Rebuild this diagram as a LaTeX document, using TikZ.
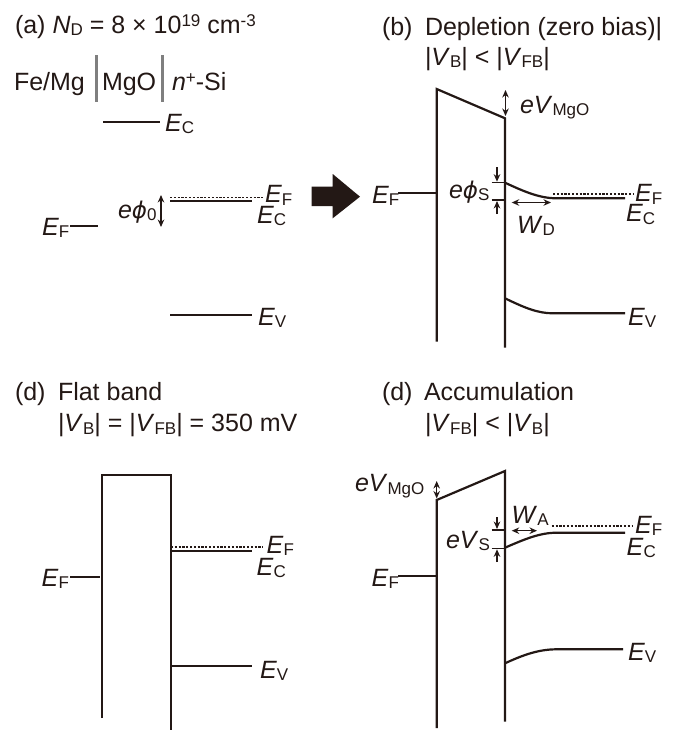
\documentclass[tikz,border=0pt]{standalone}
\usepackage{fontspec}
\setmainfont{Liberation Sans}
\newfontfamily\dvs{DejaVu Sans}
\usetikzlibrary{arrows.meta}
\definecolor{ink}{HTML}{231815}
\definecolor{bargray}{HTML}{7F7F7F}
\newcommand\sbs[1]{\raisebox{-2.5pt}{\fontsize{17}{17}\selectfont\upshape #1}}
\newcommand\sps[1]{\raisebox{7pt}{\fontsize{17}{17}\selectfont\upshape #1}}
\newcommand\phiit{{\dvs\itshape\fontsize{23}{25}\selectfont ϕ}}
\begin{document}
\begin{tikzpicture}[x=1pt,y=-1pt,
 txt/.style={anchor=base west, inner sep=0pt, outer sep=0pt, font=\fontsize{25}{30}\selectfont, text=ink},
 band/.style={draw=ink, line width=2.2pt, line join=miter},
 thinl/.style={draw=ink, line width=1.3pt},
 dots/.style={draw=ink, line width=1.9pt, dash pattern=on 2.2pt off 1.6pt},
 dar/.style={thinl, {Stealth[length=7.5pt,width=6.5pt]}-{Stealth[length=7.5pt,width=6.5pt]}},
 sar/.style={thinl, -{Stealth[length=7.5pt,width=6.5pt]}},
 gbar/.style={draw=bargray, line width=3pt},
]
\useasboundingbox (0,0) rectangle (681,731);

% ---------- panel (a)
\node[txt] (ta) at (15,33) {(a) \textit{N}\sbs{D} = 8 × 10\sps{19} cm\sps{-3}};
\node[txt] (fe) at (14,90) {Fe/Mg};
\node[txt] (mgo) at (102,90) {MgO};
\node[txt] (nsi) at (172,90) {\textit{n}\sps{+}-Si};
\draw[gbar] (96,55) -- (96,102);
\draw[gbar] (162,55) -- (162,102);
\draw[band] (103,122) -- (160,122);
\node[txt] (aec1) at (165,131) {\textit{E}\sbs{C}};
\draw[dots] (170,197.5) -- (263,197.5);
\node[txt] (aef) at (265,202.5) {\textit{E}\sbs{F}};
\draw[band] (170,200.8) -- (252,200.8);
\node[txt] (aec2) at (257,223) {\textit{E}\sbs{C}};
\node[txt] (aphi) at (118,218) {\textit{e}\phiit\sbs{0}};
\draw[dar] (161,195) -- (161,227);
\node[txt] (aefm) at (42,235) {\textit{E}\sbs{F}};
\draw[band] (70,226) -- (98,226);
\draw[band] (170,315) -- (252,315);
\node[txt] (aev) at (258,325) {\textit{E}\sbs{V}};

% ---------- fat arrow
\fill[ink] (311.7,186.7) -- (332.7,186.7) -- (332.7,174) -- (360,196.7) -- (332.7,218.3) -- (332.7,206) -- (311.7,206) -- cycle;

% ---------- panel (b)
\node[txt] (tb) at (382,35) {(b)};
\node[txt] (tb2) at (425,35) {Depletion (zero bias)|};
\node[txt] (tb3) at (425,65) {|\textit{V}\sbs{B}| < |\textit{V}\sbs{FB}|};
\draw[band] (436.7,341.7) -- (436.7,89) -- (505,118.3) -- (505,347.7);
\draw[dar] (505.5,90) -- (505.5,116);
\node[txt] (bvm) at (520,113) {\textit{eV}\sbs{MgO}};
\draw[band] (398,193.3) -- (436.7,193.3);
\node[txt] (bef) at (372,203) {\textit{E}\sbs{F}};
\draw[band] (505,182.7) .. controls (525,192) and (540,198.3) .. (556.7,198.3) -- (625,198.3);
\draw[dots] (553,194.3) -- (633,194.3);
\node[txt] (bef2) at (635,201.7) {\textit{E}\sbs{F}};
\node[txt] (bec) at (626,221.7) {\textit{E}\sbs{C}};
\node[txt] (bphi) at (449,198) {\textit{e}\phiit\sbs{S}};
\draw[thinl] (491.7,182.7) -- (505,182.7);
\draw[thinl] (491.7,200) -- (505,200);
\draw[sar] (497,167) -- (497,181.7);
\draw[sar] (497,214) -- (497,201);
\draw[dar] (511.7,202.5) -- (551,202.5);
\node[txt] (bwd) at (517,233.3) {\textit{W}\sbs{D}};
\draw[band] (505,298.3) .. controls (525,308) and (538,313.3) .. (553,313.3) -- (625,313.3);
\node[txt] (bev) at (628,325) {\textit{E}\sbs{V}};

% ---------- panel flat band
\node[txt] (tc) at (15,400) {(d)};
\node[txt] (tc2) at (58,400) {Flat band};
\node[txt] (tc3) at (58,431.7) {|\textit{V}\sbs{B}| = |\textit{V}\sbs{FB}| = 350 mV};
\draw[band] (101.7,718) -- (101.7,475) -- (171,475) -- (171,730);
\draw[band] (70,576.7) -- (100,576.7);
\node[txt] (cef) at (41.7,586) {\textit{E}\sbs{F}};
\draw[dots] (171,546.7) -- (263,546.7);
\node[txt] (cef2) at (266.7,553.3) {\textit{E}\sbs{F}};
\draw[band] (171,551) -- (252,551);
\node[txt] (cec) at (256.7,575) {\textit{E}\sbs{C}};
\draw[band] (171,666) -- (252,666);
\node[txt] (cev) at (260,678.3) {\textit{E}\sbs{V}};

% ---------- panel accumulation
\node[txt] (td) at (382,400) {(d)};
\node[txt] (td2) at (424,400) {Accumulation};
\node[txt] (td3) at (425,431.7) {|\textit{V}\sbs{FB}| < |\textit{V}\sbs{B}|};
\draw[band] (436.7,728) -- (436.7,500) -- (505,471) -- (505,721.7);
\draw[dar] (436.7,481) -- (436.7,498.5);
\node[txt] (dvm) at (355,491.7) {\textit{eV}\sbs{MgO}};
\draw[band] (398,576) -- (436.7,576);
\node[txt] (def) at (371.7,586) {\textit{E}\sbs{F}};
\draw[band] (505,547.7) .. controls (525,539) and (540,532.7) .. (556.7,532.7) -- (625,532.7);
\draw[dots] (551.7,525.7) -- (633,525.7);
\node[txt] (def2) at (635,533.3) {\textit{E}\sbs{F}};
\node[txt] (dec) at (626.7,555) {\textit{E}\sbs{C}};
\node[txt] (dwa) at (511.7,523.3) {\textit{W}\sbs{A}};
\draw[dar] (511.7,530.7) -- (537,530.7);
\node[txt] (dvs) at (446,548.3) {\textit{eV}\sbs{S}};
\draw[thinl] (491.7,530) -- (505,530);
\draw[thinl] (491.7,548.3) -- (505,548.3);
\draw[sar] (497,517) -- (497,529);
\draw[sar] (497,562) -- (497,549.3);
\draw[band] (505,663.3) .. controls (525,654) and (540,649.3) .. (556.7,649.3) -- (623,649.3);
\node[txt] (dev) at (628,660) {\textit{E}\sbs{V}};
\end{tikzpicture}
\end{document}
